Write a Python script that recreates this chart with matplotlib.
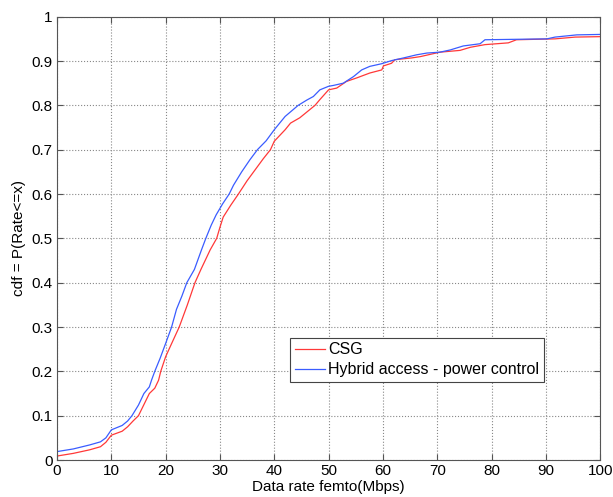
import matplotlib
matplotlib.use('Agg')
import matplotlib.pyplot as plt

plt.rcParams['font.family'] = ['Liberation Sans', 'DejaVu Sans']

# CSG curve (rate in Mbps, cdf)
csg_rate = [0, 3, 6, 8, 9, 10, 12, 13, 14, 15, 16, 17, 18, 18.7, 19.1, 20, 21, 22.5,
            24, 25.4, 26.5, 28.2, 29.4, 30, 30.6, 32, 33.4, 35, 36.5, 38, 39.3, 40, 42,
            43, 44.7, 46, 47.5, 48.4, 50, 51.5, 53.3, 55.2, 57.6, 59.8, 60.1, 61.6, 62.2,
            65.3, 66.9, 70.5, 74.2, 76.1, 78.8, 83.1, 84.6, 91.7, 95.4, 100]
csg_cdf = [0.009, 0.015, 0.023, 0.03, 0.04, 0.056, 0.065, 0.075, 0.088, 0.1, 0.125,
           0.15, 0.162, 0.18, 0.2, 0.233, 0.26, 0.3, 0.35, 0.4, 0.43, 0.474, 0.5, 0.525,
           0.548, 0.575, 0.6, 0.63, 0.655, 0.68, 0.7, 0.719, 0.745, 0.76, 0.772, 0.785,
           0.8, 0.813, 0.835, 0.839, 0.854, 0.862, 0.873, 0.88, 0.889, 0.895, 0.903,
           0.907, 0.91, 0.92, 0.924, 0.931, 0.937, 0.941, 0.948, 0.95, 0.954, 0.955]

# Hybrid access - power control curve
hyb_rate = [0, 3, 6, 8, 9, 10, 12, 13, 13.8, 15, 16, 17, 17.4, 18, 19, 20, 21.1, 22, 23,
            23.9, 25.3, 26.6, 27.4, 28.4, 29.3, 30.5, 31.7, 32.5, 34, 35.5, 36.9, 38.5,
            40, 42, 44.4, 46, 47.2, 48.4, 50, 50.9, 52.7, 54.6, 56.1, 57.6, 59.8, 61.6,
            63.8, 66.2, 68.1, 70.5, 72.4, 74.8, 77.9, 78.8, 90.2, 91.7, 95.7, 100]
hyb_cdf = [0.019, 0.025, 0.034, 0.041, 0.05, 0.068, 0.078, 0.088, 0.1, 0.124, 0.15,
           0.165, 0.18, 0.2, 0.23, 0.263, 0.3, 0.34, 0.37, 0.4, 0.43, 0.474, 0.5, 0.53,
           0.553, 0.578, 0.6, 0.62, 0.65, 0.677, 0.7, 0.72, 0.745, 0.775, 0.8, 0.812,
           0.82, 0.835, 0.843, 0.845, 0.85, 0.865, 0.88, 0.888, 0.894, 0.901, 0.907,
           0.914, 0.918, 0.92, 0.925, 0.934, 0.939, 0.948, 0.95, 0.954, 0.959, 0.96]

fig = plt.figure(figsize=(6.13, 4.97), dpi=100)
ax = fig.add_axes([0.093, 0.0744, 0.886, 0.892])

ax.plot(csg_rate, csg_cdf, color='#ff3838', lw=0.9, label='CSG')
ax.plot(hyb_rate, hyb_cdf, color='#3a5cff', lw=0.9,
        label='Hybrid access - power control')

ax.set_xlim(0, 100)
ax.set_ylim(0, 1)
ax.set_xticks(range(0, 101, 10))
ax.set_yticks([i / 10 for i in range(11)])
ax.set_yticklabels(['0', '0.1', '0.2', '0.3', '0.4', '0.5', '0.6', '0.7', '0.8', '0.9', '1'])
ax.tick_params(direction='in', top=True, right=True, labelsize=11, length=4,
               color='#555555', pad=3)
ax.grid(True, linestyle=':', color='#888888', lw=0.8)
for s in ax.spines.values():
    s.set_color('#555555')

ax.set_xlabel('Data rate femto(Mbps)', fontsize=11, labelpad=1)
ax.set_ylabel('cdf = P(Rate<=x)', fontsize=11, labelpad=4)

leg = ax.legend(loc='lower left', bbox_to_anchor=(0.429, 0.176), fontsize=11.5,
                fancybox=False, framealpha=1, edgecolor='#444444', handlelength=1.9,
                handletextpad=0.2, borderpad=0.3, labelspacing=0.3, borderaxespad=0)
leg.get_frame().set_linewidth(0.8)

fig.savefig('out.png', dpi=100)
